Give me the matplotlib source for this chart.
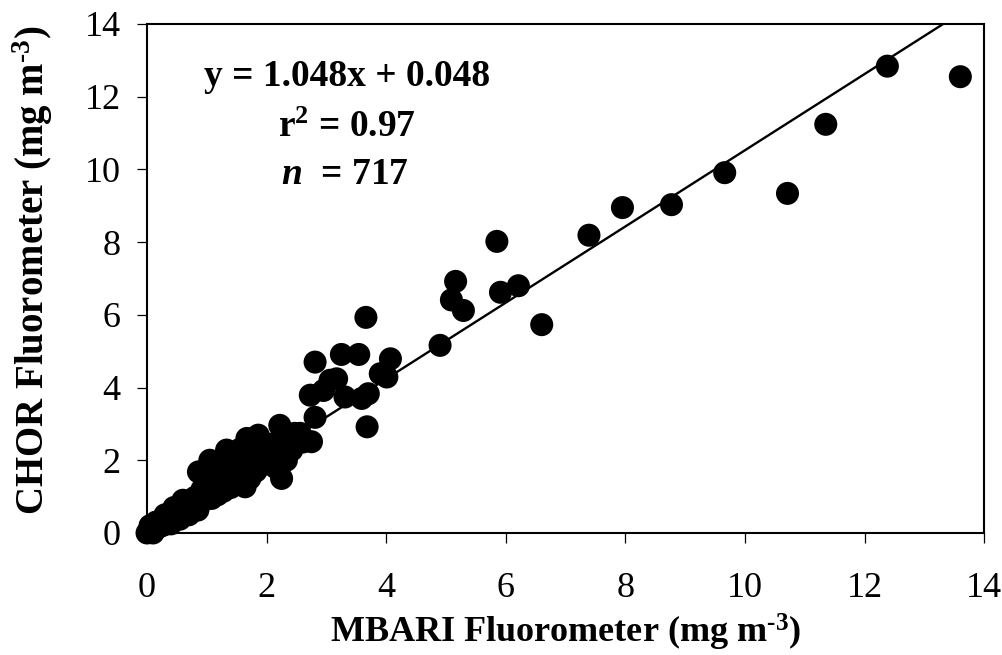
#!/usr/bin/env python3
"""CHOR vs MBARI fluorometer scatter with linear fit."""

import matplotlib

matplotlib.use("Agg")
import matplotlib.pyplot as plt
import numpy as np

# fit reported on the figure
SLOPE = 1.048
INTERCEPT = 0.048
R2 = 0.97
N_OBS = 717

# dense cluster near the origin
cluster_x = [
    0.00, 0.02, 0.05, 0.08, 0.10, 0.12, 0.15, 0.18, 0.20, 0.22, 0.25, 0.28, 0.30,
    0.32, 0.35, 0.38, 0.40, 0.42, 0.45, 0.48, 0.50, 0.52, 0.55, 0.58, 0.60,
    0.62, 0.65, 0.68, 0.70, 0.72, 0.75, 0.78, 0.80, 0.82, 0.86, 0.85, 0.88,
    0.90, 0.92, 0.95, 0.98, 1.00, 1.02, 1.05, 1.05, 1.08, 1.10, 1.12, 1.15,
    1.18, 1.20, 1.22, 1.25, 1.28, 1.30, 1.33, 1.35, 1.35, 1.38, 1.40, 1.42,
    1.45, 1.48, 1.50, 1.52, 1.55, 1.58, 1.60, 1.64, 1.65, 1.67, 1.70, 1.72,
    1.75, 1.80, 1.82, 1.86, 1.88, 1.90, 1.95, 2.00, 2.05, 2.10, 2.15, 2.22,
    2.25, 2.25, 2.30, 2.33, 2.42, 2.47, 2.56, 2.60,
    0.15, 0.30, 0.45, 0.60, 0.40, 0.55, 0.70, 0.05, 0.10,
]
cluster_y = [
    0.00, 0.03, 0.05, 0.10, 0.12, 0.08, 0.20, 0.15, 0.25, 0.18, 0.30, 0.22, 0.35,
    0.28, 0.42, 0.33, 0.48, 0.38, 0.50, 0.42, 0.58, 0.45, 0.62, 0.52, 0.70,
    0.55, 0.75, 0.60, 0.82, 0.65, 0.90, 0.70, 0.98, 0.72, 1.68, 0.63, 1.05,
    0.85, 1.20, 0.90, 1.35, 1.00, 1.50, 2.00, 1.10, 0.95, 1.40, 1.20, 1.70,
    1.05, 1.50, 1.30, 1.90, 1.15, 1.60, 2.28, 2.14, 1.40, 1.80, 1.25, 2.00,
    1.55, 1.35, 1.90, 1.70, 2.30, 1.45, 2.10, 1.27, 1.80, 2.60, 2.20, 1.50,
    1.95, 2.40, 1.70, 2.69, 2.10, 1.85, 2.30, 2.00, 2.14, 2.45, 1.80, 2.96,
    1.50, 2.60, 2.20, 2.00, 2.28, 2.74, 2.74, 2.50,
    0.30, 0.50, 0.70, 0.90, 0.25, 0.38, 0.50, 0.20, 0.00,
]

# scattered points above ~2.5 mg m-3
outer_x = [
    2.73, 2.81, 2.75, 2.81, 2.95, 3.06, 3.17, 3.25, 3.31, 3.54, 3.59, 3.66,
    3.68, 3.70, 3.90, 4.01, 4.07, 4.90, 5.09, 5.16, 5.29, 5.85, 5.91, 6.21,
    6.60, 7.39, 7.95, 8.77, 9.66, 10.71, 11.35, 12.38, 13.60,
]
outer_y = [
    3.79, 3.18, 2.51, 4.70, 3.92, 4.20, 4.24, 4.91, 3.74, 4.91, 3.70, 5.93,
    2.92, 3.83, 4.38, 4.29, 4.79, 5.16, 6.41, 6.92, 6.12, 8.02, 6.62, 6.80,
    5.73, 8.19, 8.95, 9.03, 9.91, 9.34, 11.24, 12.84, 12.55,
]

TICKS = [0, 2, 4, 6, 8, 10, 12, 14]

plt.rcParams["font.family"] = ["Liberation Serif", "DejaVu Serif"]
plt.rcParams["mathtext.fontset"] = "custom"
plt.rcParams["mathtext.rm"] = "Liberation Serif:bold"
plt.rcParams["mathtext.bf"] = "Liberation Serif:bold"
plt.rcParams["mathtext.it"] = "Liberation Serif:italic:bold"

fig = plt.figure(figsize=(10.03, 6.55), dpi=100)
ax = fig.add_axes([0.1466, 0.1863, 0.8347, 0.7771])

x_all = np.array(cluster_x + outer_x)
y_all = np.array(cluster_y + outer_y)
ax.scatter(x_all, y_all, s=275, c="black", edgecolors="none", zorder=3, clip_on=False)

x_end = (14 - INTERCEPT) / SLOPE
fit_x = np.array([0.0, x_end])
ax.plot(fit_x, SLOPE * fit_x + INTERCEPT, color="black", linewidth=1.7, zorder=2)

ax.set_xlim(0, 14)
ax.set_ylim(0, 14)
ax.set_xticks(TICKS)
ax.set_yticks(TICKS)
ax.tick_params(direction="out", length=7, width=0.9, labelsize=26)
ax.tick_params(axis="x", pad=21)
ax.tick_params(axis="y", pad=12)
for side in ax.spines.values():
    side.set_linewidth(1.5)

# superscript with a short hyphen instead of the wide math minus
unit = "(mg m$^{\u2010" + "3}$)"
ax.set_xlabel("MBARI Fluorometer " + unit, fontsize=26, fontweight="bold", labelpad=5)
ax.set_ylabel("CHOR Fluorometer " + unit, fontsize=28, fontweight="bold")
ax.yaxis.set_label_coords(-0.11, 0.516)

txt = dict(transform=ax.transData, ha="center", va="center", fontsize=27, fontweight="bold")
ax.text(3.34, 12.55, f"y = {SLOPE:.3f}x + {INTERCEPT:.3f}", **txt)
ax.text(3.34, 11.15, rf"r$^{{2}}$ = {R2:.2f}", **txt)
ax.text(3.3, 9.85, rf"$n$  = {N_OBS}", **txt)

fig.savefig("out.png", dpi=100)
